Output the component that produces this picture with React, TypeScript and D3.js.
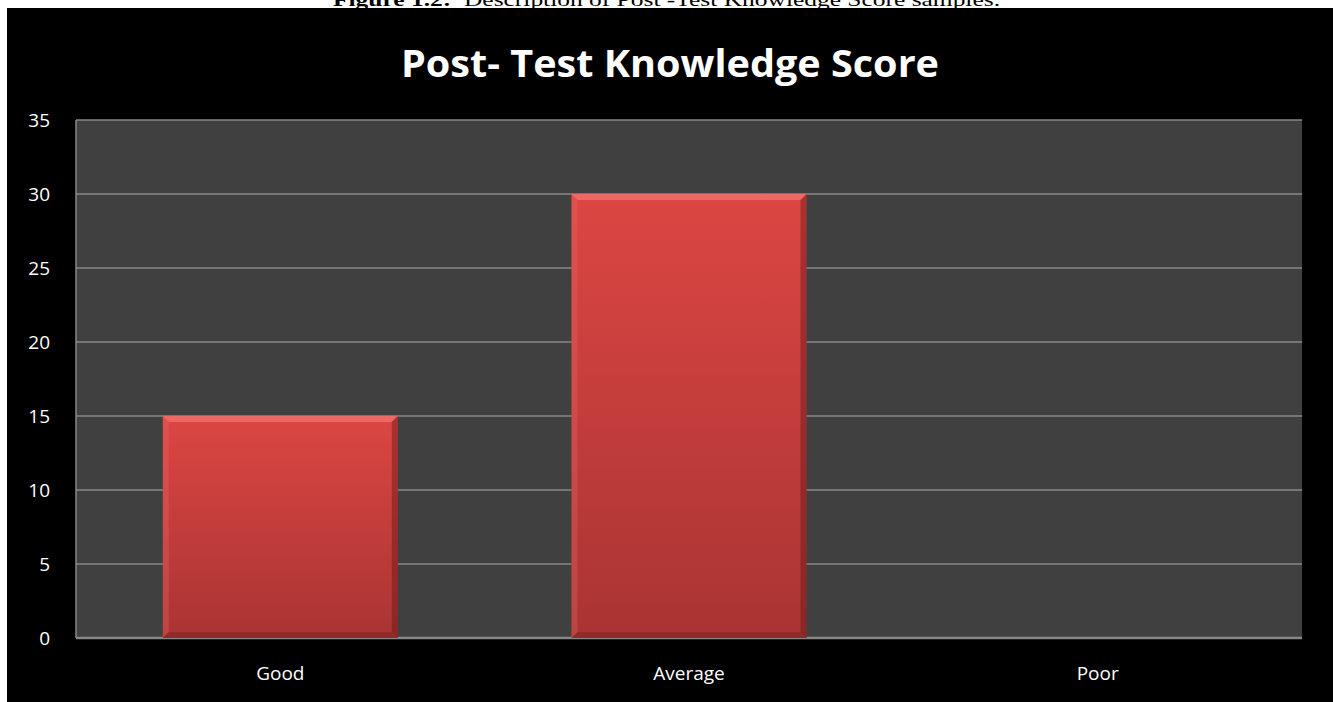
import React, { useEffect, useRef } from "react";
import * as d3 from "d3";

const categories = ["Good", "Average", "Poor"];
const scores = [15, 30, 0];
const yTicks = [0, 5, 10, 15, 20, 25, 30, 35];
const chartTitle = "Post- Test Knowledge Score";
const captionBold = "Figure 1.2:";
const captionRest = "\u00a0 Description of Post -Test Knowledge Score samples.";

const W = 1333;
const H = 702;
const margin = { top: 120, right: 31, bottom: 64, left: 76 };

export default function App() {
  const ref = useRef<SVGSVGElement>(null);

  useEffect(() => {
    const svg = d3.select(ref.current);
    svg.selectAll("*").remove();

    const x = d3
      .scaleBand<string>()
      .domain(categories)
      .range([margin.left, W - margin.right])
      .paddingInner(0.425)
      .paddingOuter(0.2125);

    const y = d3
      .scaleLinear()
      .domain([0, 35])
      .range([H - margin.bottom, margin.top]);

    const defs = svg.append("defs");
    const grad = defs
      .append("linearGradient")
      .attr("id", "barGrad")
      .attr("x1", 0)
      .attr("y1", 0)
      .attr("x2", 0)
      .attr("y2", 1);
    grad.append("stop").attr("offset", "0%").attr("stop-color", "#dc4643");
    grad.append("stop").attr("offset", "100%").attr("stop-color", "#a93433");

    // white page strip with the caption (cut at the top like the source page)
    svg.append("rect").attr("width", W).attr("height", H).attr("fill", "#ffffff");
    const cap = svg
      .append("text")
      .attr("x", 333)
      .attr("y", 6)
      .attr("font-family", "'Liberation Serif', 'Times New Roman', serif")
      .attr("font-size", 19)
      .attr("textLength", 667)
      .attr("lengthAdjust", "spacingAndGlyphs")
      .attr("fill", "#000");
    cap.append("tspan").attr("font-weight", "bold").text(captionBold);
    cap.append("tspan").text(captionRest);

    // black chart frame
    svg
      .append("rect")
      .attr("x", 7)
      .attr("y", 8)
      .attr("width", W - 7)
      .attr("height", H - 8)
      .attr("fill", "#000");

    svg
      .append("text")
      .attr("x", 670)
      .attr("y", 77)
      .attr("text-anchor", "middle")
      .attr("font-family", "'Open Sans', 'Noto Sans', sans-serif")
      .attr("font-weight", "bold")
      .attr("font-size", 38)
      .attr("textLength", 538)
      .attr("lengthAdjust", "spacingAndGlyphs")
      .attr("fill", "#fff")
      .text(chartTitle);

    // plot area
    svg
      .append("rect")
      .attr("x", margin.left)
      .attr("y", margin.top)
      .attr("width", W - margin.right - margin.left)
      .attr("height", H - margin.bottom - margin.top)
      .attr("fill", "#404040");

    // grid lines
    svg
      .append("g")
      .selectAll("line")
      .data(yTicks)
      .join("line")
      .attr("x1", margin.left)
      .attr("x2", W - margin.right)
      .attr("y1", (d) => y(d))
      .attr("y2", (d) => y(d))
      .attr("stroke", "#878787")
      .attr("stroke-width", (d) => (d === 0 ? 2.5 : 1.5));

    svg
      .append("line")
      .attr("x1", margin.left)
      .attr("x2", margin.left)
      .attr("y1", margin.top)
      .attr("y2", H - margin.bottom)
      .attr("stroke", "#878787")
      .attr("stroke-width", 1.5);

    // bars with bevel edges
    const bev = 6;
    const bars = svg
      .append("g")
      .selectAll("g")
      .data(categories.map((c, i) => ({ c, v: scores[i] })).filter((d) => d.v > 0))
      .join("g");

    bars
      .append("rect")
      .attr("x", (d) => x(d.c)!)
      .attr("y", (d) => y(d.v))
      .attr("width", x.bandwidth())
      .attr("height", (d) => y(0) - y(d.v))
      .attr("fill", "url(#barGrad)");

    const poly = (fn: (x0: number, x1: number, y0: number, y1: number) => number[][], fill: string, op: number) =>
      bars
        .append("polygon")
        .attr("points", (d) => {
          const x0 = x(d.c)!;
          const x1 = x0 + x.bandwidth();
          const y0 = y(d.v);
          const y1 = y(0);
          return fn(x0, x1, y0, y1).map((p) => p.join(",")).join(" ");
        })
        .attr("fill", fill)
        .attr("opacity", op);

    poly((x0, x1, y0) => [[x0, y0], [x1, y0], [x1 - bev, y0 + bev], [x0 + bev, y0 + bev]], "#ff8a86", 0.5);
    poly((x0, x1, y0, y1) => [[x0, y0], [x0 + bev, y0 + bev], [x0 + bev, y1 - bev], [x0, y1]], "#f06a66", 0.3);
    poly((x0, x1, y0, y1) => [[x1, y0], [x1 - bev, y0 + bev], [x1 - bev, y1 - bev], [x1, y1]], "#5a1514", 0.4);
    poly((x0, x1, y0, y1) => [[x0, y1], [x0 + bev, y1 - bev], [x1 - bev, y1 - bev], [x1, y1]], "#5a1514", 0.3);

    // y tick labels
    svg
      .append("g")
      .selectAll("text")
      .data(yTicks)
      .join("text")
      .attr("x", 50)
      .attr("y", (d) => y(d))
      .attr("dy", "0.35em")
      .attr("text-anchor", "end")
      .attr("font-family", "'Open Sans', 'Noto Sans', sans-serif")
      .attr("font-size", 19)
      .attr("fill", "#fff")
      .text((d) => d);

    // x labels
    svg
      .append("g")
      .selectAll("text")
      .data(categories)
      .join("text")
      .attr("x", (d) => x(d)! + x.bandwidth() / 2)
      .attr("y", 673)
      .attr("dy", "0.35em")
      .attr("text-anchor", "middle")
      .attr("font-family", "'Open Sans', 'Noto Sans', sans-serif")
      .attr("font-size", 19)
      .attr("fill", "#fff")
      .text((d) => d);
  }, []);

  return (
    <div style={{ position: "absolute", left: 0, top: 0 }}>
      <svg ref={ref} width={W} height={H} style={{ display: "block" }}></svg>
    </div>
  );
}
